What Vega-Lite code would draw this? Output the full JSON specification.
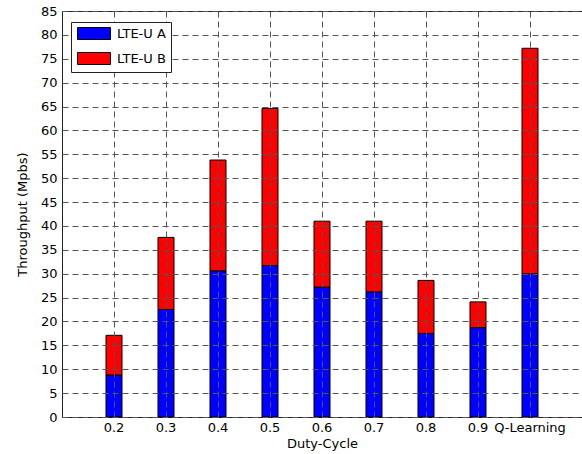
{
  "$schema": "https://vega.github.io/schema/vega-lite/v6.json",
  "width": 520,
  "height": 406,
  "autosize": "none",
  "padding": {"left": 62, "top": 11, "right": 0, "bottom": 37},
  "background": "white",
  "config": {
    "font": "DejaVu Sans",
    "view": {"stroke": "#222", "strokeWidth": 1}
  },
  "data": {
    "values": [
      {"cycle": "0.2", "series": "LTE-U A", "throughput": 8.8},
      {"cycle": "0.2", "series": "LTE-U B", "throughput": 8.3},
      {"cycle": "0.3", "series": "LTE-U A", "throughput": 22.5},
      {"cycle": "0.3", "series": "LTE-U B", "throughput": 15.1},
      {"cycle": "0.4", "series": "LTE-U A", "throughput": 30.6},
      {"cycle": "0.4", "series": "LTE-U B", "throughput": 23.2},
      {"cycle": "0.5", "series": "LTE-U A", "throughput": 31.7},
      {"cycle": "0.5", "series": "LTE-U B", "throughput": 32.9},
      {"cycle": "0.6", "series": "LTE-U A", "throughput": 27.2},
      {"cycle": "0.6", "series": "LTE-U B", "throughput": 13.8},
      {"cycle": "0.7", "series": "LTE-U A", "throughput": 26.2},
      {"cycle": "0.7", "series": "LTE-U B", "throughput": 14.8},
      {"cycle": "0.8", "series": "LTE-U A", "throughput": 17.5},
      {"cycle": "0.8", "series": "LTE-U B", "throughput": 11.1},
      {"cycle": "0.9", "series": "LTE-U A", "throughput": 18.7},
      {"cycle": "0.9", "series": "LTE-U B", "throughput": 5.4},
      {"cycle": "Q-Learning", "series": "LTE-U A", "throughput": 30.0},
      {"cycle": "Q-Learning", "series": "LTE-U B", "throughput": 47.2}
    ]
  },
  "mark": {"type": "bar", "stroke": "#000", "strokeWidth": 1},
  "encoding": {
    "x": {
      "field": "cycle",
      "type": "nominal",
      "sort": null,
      "scale": {"paddingInner": 0.692, "paddingOuter": 0.846},
      "axis": {
        "title": "Duty-Cycle",
        "labelAngle": 0,
        "labelFontSize": 13,
        "labelColor": "#000",
        "labelPadding": 4,
        "titleFontSize": 13,
        "titleFontWeight": "normal",
        "titleColor": "#000",
        "titlePadding": 3,
        "bandPosition": 0.5,
        "grid": true,
        "gridColor": "#555",
        "gridDash": [6, 4],
        "gridWidth": 1,
        "domain": false,
        "ticks": false,
        "zindex": 1
      }
    },
    "y": {
      "field": "throughput",
      "type": "quantitative",
      "stack": "zero",
      "scale": {"domain": [0, 85], "nice": false},
      "axis": {
        "title": "Throughput (Mpbs)",
        "values": [0, 5, 10, 15, 20, 25, 30, 35, 40, 45, 50, 55, 60, 65, 70, 75, 80, 85],
        "labelFontSize": 13,
        "labelColor": "#000",
        "labelPadding": 5,
        "titleFontSize": 13,
        "titleFontWeight": "normal",
        "titleColor": "#000",
        "titlePadding": 11,
        "grid": true,
        "gridColor": "#555",
        "gridDash": [6, 4],
        "gridWidth": 1,
        "domain": false,
        "ticks": false,
        "zindex": 1
      }
    },
    "color": {
      "field": "series",
      "type": "nominal",
      "scale": {"domain": ["LTE-U A", "LTE-U B"], "range": ["#0000ff", "#ff0000"]},
      "legend": {
        "title": null,
        "orient": "none",
        "legendX": 9,
        "legendY": 11,
        "fillColor": "white",
        "strokeColor": "#222",
        "padding": 5,
        "cornerRadius": 0,
        "symbolType": "M-0.833,-1H4.667V1H-0.833Z",
        "symbolSize": 144,
        "symbolStrokeColor": "#000",
        "symbolStrokeWidth": 1,
        "symbolOpacity": 1,
        "labelFontSize": 13,
        "labelColor": "#000",
        "labelOffset": 28,
        "rowPadding": 8,
        "zindex": 2
      }
    },
    "order": {"field": "series", "sort": "ascending"}
  }
}
